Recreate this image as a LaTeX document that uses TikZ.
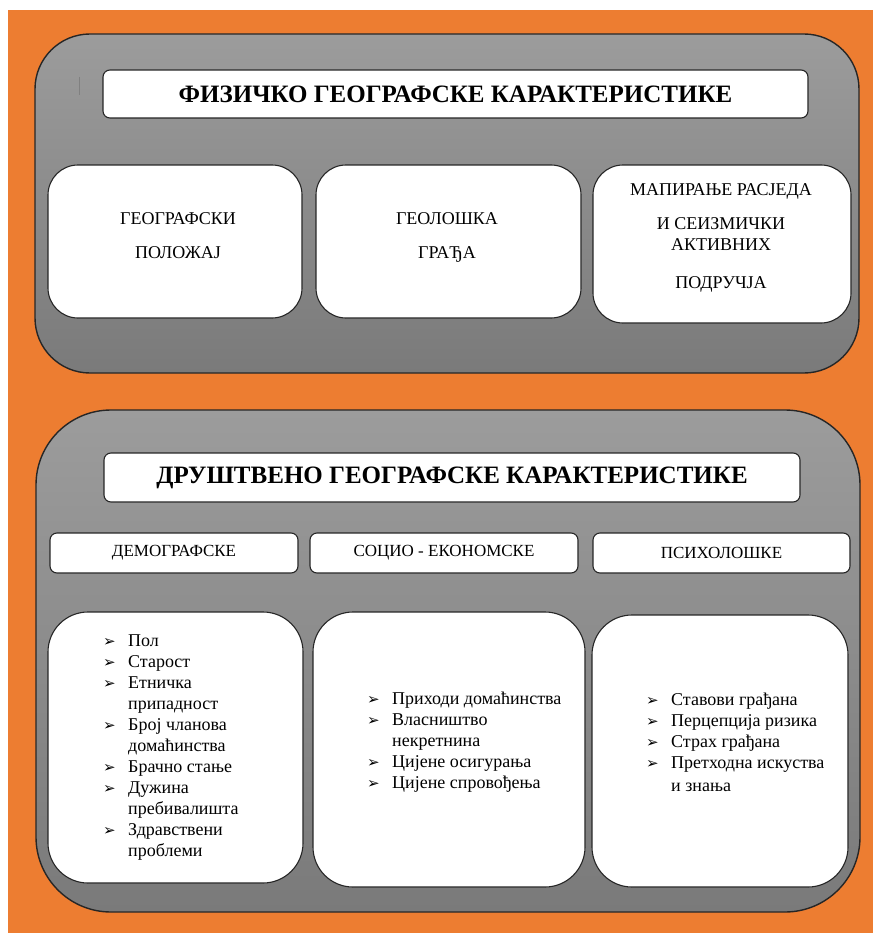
\documentclass[tikz,border=0pt]{standalone}
\usepackage{fontspec}
\setmainfont{Liberation Serif}
\newfontfamily\arrowfont{DejaVu Sans}
\usepackage{tikz}
\definecolor{orangebg}{HTML}{ED7D31}
\definecolor{panelhi}{HTML}{9C9C9C}
\definecolor{panello}{HTML}{7A7A7A}
\newcommand{\pnt}{\makebox[25pt][l]{\arrowfont\fontsize{15}{15}\selectfont ➢}}
\newcommand{\cnt}{\hspace*{25pt}}
\tikzset{
  panel/.style={draw=black!85, line width=1.4pt, top color=panelhi, bottom color=panello, inner sep=0pt},
  bigbox/.style={draw=black!85, line width=1.1pt, fill=white, rounded corners=32pt, inner sep=0pt},
  titlebox/.style={draw=black!85, line width=1.1pt, fill=white, rounded corners=7pt, inner sep=0pt, font=\bfseries\fontsize{25}{29}\selectfont},
  tagbox/.style={draw=black!85, line width=1.1pt, fill=white, rounded corners=7pt, inner sep=0pt, font=\fontsize{17}{20}\selectfont},
  boxtext/.style={align=center, inner sep=0pt, anchor=north, font=\fontsize{18}{20.7}\selectfont},
  listtext/.style={align=left, inner sep=0pt, anchor=north west, font=\fontsize{18}{21}\selectfont}
}

\begin{document}
\begin{tikzpicture}[x=1pt, y=-1pt]
              \useasboundingbox (0,0) rectangle (873,939);
              % Draw the background
              \fill[white] (0,0) rectangle (873,939);
              \fill[orangebg] (8,10) rectangle (873,933);

              % The two grey panels
              \node[panel, rounded corners=55pt, minimum width=824pt, minimum height=339pt] (physPanel) at (447,203.5) {};
              \node[panel, rounded corners=75pt, minimum width=824pt, minimum height=502pt] (socPanel) at (448,661) {};
              \draw[gray, line width=0.8pt] (79,77) -- (79,95);

              % Upper part: title and boxes
              \node[titlebox, minimum width=705pt, minimum height=48pt] (physTitle) at (455.5,94) {ФИЗИЧКО ГЕОГРАФСКЕ КАРАКТЕРИСТИКЕ};
              \node[bigbox, rounded corners=30pt, minimum width=254pt, minimum height=153pt] (posBox) at (175,241.5) {};
              \node[bigbox, rounded corners=30pt, minimum width=265pt, minimum height=153pt] (geolBox) at (448.5,241.5) {};
              \node[bigbox, rounded corners=30pt, minimum width=258pt, minimum height=158pt] (faultBox) at (722,244) {};
              \node[boxtext] (posText) at (178,212) {ГЕОГРАФСКИ\\[14pt]ПОЛОЖАЈ};
              \node[boxtext] (geolText) at (447,212) {ГЕОЛОШКА\\[14pt]ГРАЂА};
              \node[boxtext] (faultText) at (721,183) {МАПИРАЊЕ РАСЈЕДА\\[14pt]И СЕИЗМИЧКИ\\АКТИВНИХ\\[17pt]ПОДРУЧЈА};

              % Lower part: title, categories and lists
              \node[titlebox, minimum width=696pt, minimum height=49pt] (socTitle) at (452,477.5) {ДРУШТВЕНО ГЕОГРАФСКЕ КАРАКТЕРИСТИКЕ};
              \node[tagbox, minimum width=248pt, minimum height=40pt] (demoTag) at (174,553) {ДЕМОГРАФСКЕ};
              \node[tagbox, minimum width=268pt, minimum height=40pt] (ecoTag) at (444,553) {СОЦИО - ЕКОНОМСКЕ};
              \node[tagbox, minimum width=257pt, minimum height=40pt] (psyTag) at (721.5,553) {ПСИХОЛОШКЕ};
              \node[bigbox, rounded corners=40pt, minimum width=255pt, minimum height=271pt] (demoBox) at (175.5,747.5) {};
              \node[bigbox, rounded corners=40pt, minimum width=272pt, minimum height=275pt] (ecoBox) at (449,749.5) {};
              \node[bigbox, rounded corners=40pt, minimum width=256pt, minimum height=272pt] (psyBox) at (720,751) {};

              % The lists
              \node[listtext] (demoList) at (103,635) {\pnt Пол\\ \pnt Старост\\ \pnt Етничка\\ \cnt припадност\\ \pnt Број чланова\\ \cnt домаћинства\\ \pnt Брачно стање\\ \pnt Дужина\\ \cnt пребивалишта\\ \pnt Здравствени\\ \cnt проблеми};
              \node[listtext] (ecoList) at (367,692) {\pnt Приходи домаћинства\\ \pnt Власништво\\ \cnt некретнина\\ \pnt Цијене осигурања\\ \pnt Цијене спровођења};
              \node[listtext] (psyList) at (646,693) {\pnt Ставови грађана\\ \pnt Перцепција ризика\\ \pnt Страх грађана\\ \pnt Претходна искуства\\[2pt] \cnt и знања};
            \end{tikzpicture}
\end{document}
